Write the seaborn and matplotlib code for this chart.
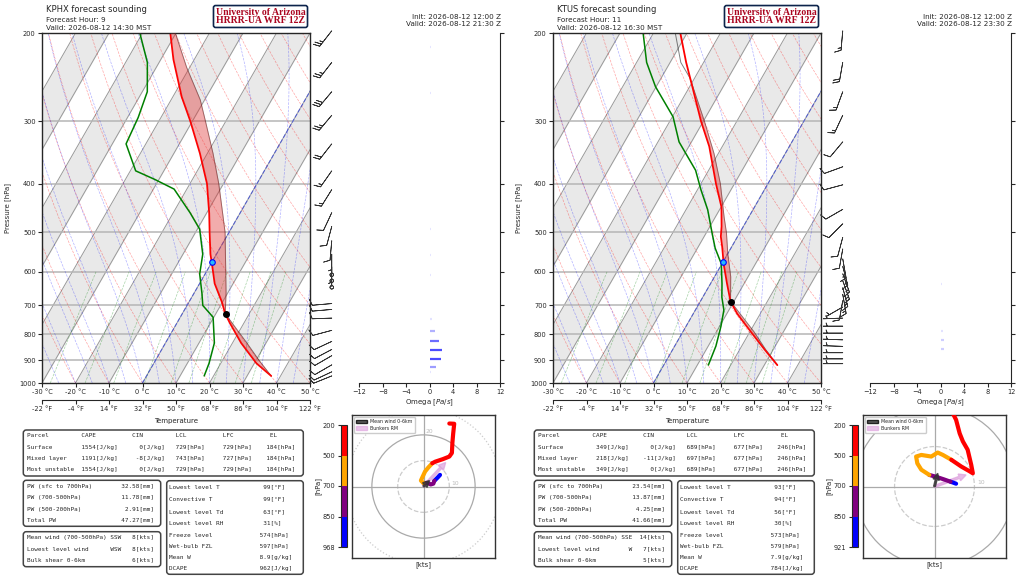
import numpy as np
import pandas as pd
import matplotlib
matplotlib.use('Agg')
import matplotlib.pyplot as plt
import matplotlib.cm as cm
import seaborn as sns
from matplotlib.patches import FancyBboxPatch, Patch, Circle
from matplotlib.colors import ListedColormap, BoundaryNorm, to_rgba
from matplotlib.transforms import IdentityTransform

sns.set_style('ticks')
plt.rcParams['font.family'] = ['DejaVu Sans']

# ===================== data: KPHX =====================
phx_t_p = [968, 914, 832, 760, 727, 690, 633, 578, 553, 500, 458, 400, 348, 300, 268, 226, 200]
phx_t = [37.2, 30.7, 22.6, 15.9, 12.8, 9.9, 4.5, 0.3, -1.8, -5.8, -9.2, -14.9, -22.2, -30.6, -37.4, -46.2, -51.7]
phx_td_p = [968, 914, 832, 739, 700, 661, 606, 553, 493, 457, 410, 392, 377, 333, 295, 262, 229, 200]
phx_td = [17.2, 16.5, 14.6, 9.8, 4.7, 2.3, -1.6, -4.1, -9.3, -15.0, -23.8, -31.3, -38.4, -45.9, -46.8, -48.5, -53.5, -60.8]
phx_parcel_p = [968, 900, 832, 727, 661, 586, 500, 458, 400, 348, 300, 272, 234, 200]
phx_parcel = [37.2, 30.8, 24.3, 12.8, 9.5, 4.9, -1.2, -5.2, -11.4, -18.3, -26.1, -31.3, -41.0, -50.2]
phx_wind_p = [198, 229, 262, 292, 333, 377, 411, 457, 487, 520, 553, 586, 608, 625, 644,
              694, 713, 742, 785, 826, 857, 882, 920, 950, 968]
phx_wind_dir = [218, 218, 220, 220, 218, 215, 212, 205, 195, 185, 180, 180, 0, 0, 0,
                265, 265, 268, 255, 245, 242, 240, 240, 245, 248]
phx_wind_spd = [25, 25, 30, 25, 20, 15, 15, 10, 10, 10, 5, 4, 0, 0, 0,
                10, 10, 10, 10, 10, 10, 10, 10, 10, 8]
phx_omega_p = [213, 263, 493, 554, 608, 746, 786, 824, 860, 894, 929, 952]
phx_omega = [0.2, 0.2, 0.2, 0.2, 0.2, 0.3, 0.8, 1.5, 2.0, 1.9, 1.0, 0.2]
phx_hodo_p = [968, 920, 880, 850, 800, 760, 730, 700, 660, 620, 580, 540, 500,
              460, 420, 380, 340, 300, 260, 230, 200]
phx_hodo_u = [6.4, 5.6, 4.8, 4.2, 3.8, 2.8, 1.5, 0.0, -1.0, -0.6, 0.6, 1.9, 3.4,
              4.5, 7.5, 10.0, 11.0, 11.2, 11.5, 11.9, 10.0]
phx_hodo_v = [4.5, 3.6, 2.8, 2.2, 1.1, 0.8, 1.4, 1.3, 2.3, 3.2, 5.8, 7.4, 9.0,
              9.6, 10.6, 11.6, 13.0, 17.0, 20.5, 24.3, 24.4]
phx_mean_wind = [2.3, 2.3]
phx_bunkers = [8.6, 9.3]
phx_sfc_p = 968
phx_lcl_p = 729
phx_frz_p = 574
phx_parcels = [('Surface', 1554, 0, 729, 729, 184),
               ('Mixed layer', 1191, -8, 743, 727, 184),
               ('Most unstable', 1554, 0, 729, 729, 184)]
phx_pw = [32.58, 11.78, 2.91, 47.27]
phx_winds = [('SSW', 8), ('WSW', 8), ('', 6)]
phx_misc = ['99', '99', '63', '31', '574', '597', '8.9', '962']

# ===================== data: KTUS =====================
tus_t_p = [921, 857, 793, 727, 687, 633, 578, 535, 510, 487, 445, 400, 337, 300, 256, 229, 200]
tus_t = [33.9, 27.4, 20.6, 13.1, 9.0, 4.9, 0.5, -2.8, -5.0, -6.5, -9.9, -15.5, -23.9, -30.7, -39.2, -45.2, -52.0]
tus_td_p = [921, 844, 770, 715, 674, 633, 578, 538, 501, 451, 411, 376, 330, 294, 256, 229, 200]
tus_td = [13.3, 12.3, 10.4, 8.5, 5.7, 3.4, -0.2, -4.7, -8.3, -13.5, -19.0, -23.9, -33.7, -39.8, -50.2, -57.0, -63.1]
tus_parcel_p = [921, 857, 790, 687, 613, 553, 501, 466, 400, 348, 300, 246, 229, 200]
tus_parcel = [33.9, 27.7, 21.2, 9.0, 4.8, 0.1, -4.0, -7.4, -14.2, -21.3, -29.7, -41.4, -46.8, -53.5]
tus_wind_p = [198, 229, 262, 292, 330, 370, 402, 450, 481, 512, 540, 565, 585, 605, 625, 645,
              665, 685, 705, 742, 770, 795, 820, 845, 870, 895, 915]
tus_wind_dir = [185, 190, 200, 205, 220, 250, 255, 240, 225, 195, 190, 170, 165, 160, 160, 165,
                170, 190, 240, 268, 270, 270, 272, 272, 270, 270, 270]
tus_wind_spd = [15, 20, 15, 15, 10, 10, 10, 10, 10, 10, 10, 15, 15, 15, 15, 15,
                15, 10, 5, 5, 5, 5, 5, 5, 5, 5, 7]
tus_omega_p = [634, 786, 820, 854, 890]
tus_omega = [0.2, 0.3, 0.5, 0.5, 0.1]
tus_hodo_p = [921, 880, 850, 800, 750, 700, 670, 640, 610, 580, 560, 540, 520, 500,
              470, 440, 410, 380, 350, 320, 290, 260, 230, 200]
tus_hodo_u = [5.4, 4.6, 4.0, 2.3, 0.5, -1.3, -3.3, -4.3, -4.6, -3.3, -0.8, 0.8, 2.1, 4.2,
              6.7, 8.8, 9.6, 9.2, 8.3, 7.1, 6.3, 5.4, 4.6, 2.5]
tus_hodo_v = [0.7, 1.0, 1.2, 1.8, 2.4, 2.9, 4.2, 5.8, 7.5, 7.9, 7.5, 8.5, 7.9, 6.7,
              5.0, 3.8, 3.3, 5.4, 9.2, 11.3, 13.3, 16.7, 18.3, 19.6]
tus_mean_wind = [0.8, 3.3]
tus_bunkers = [7.9, 2.9]
tus_sfc_p = 921
tus_lcl_p = 689
tus_frz_p = 573
tus_parcels = [('Surface', 349, 0, 689, 677, 246),
               ('Mixed layer', 218, -11, 697, 677, 246),
               ('Most unstable', 349, 0, 689, 677, 246)]
tus_pw = [23.54, 13.87, 4.25, 41.66]
tus_winds = [('SSE', 14), ('W', 7), ('', 5)]
tus_misc = ['93', '94', '56', '30', '573', '579', '7.9', '784']

W, H = 1024, 576
SKEW = 60.0
LEVELS = list(range(200, 1001, 100))
MONO = 'DejaVu Sans Mono'
MONO_SIZE = 4.35


def fr(x, y, w, h):
    return [x / W, 1 - (y + h) / H, w / W, h / H]


def skew(p):
    return SKEW * np.log(1000.0 / np.asarray(p, float)) / np.log(5.0)


def moist_adiabats(t0c, p):
    Rd, Cp, Lv, eps = 287.04, 1005.7, 2.501e6, 0.622

    def f(T, pp):
        es = 6.112 * np.exp(17.67 * (T - 273.15) / (T - 29.65))
        rs = eps * es / (pp - es)
        return (Rd * T + Lv * rs) / (Cp + Lv ** 2 * rs * eps / (Rd * T ** 2)) / pp

    T = np.asarray(t0c, float) + 273.15
    out = [T.copy()]
    for i in range(len(p) - 1):
        dp = p[i + 1] - p[i]
        k1 = f(T, p[i])
        k2 = f(T + 0.5 * dp * k1, p[i] + 0.5 * dp)
        k3 = f(T + 0.5 * dp * k2, p[i] + 0.5 * dp)
        k4 = f(T + dp * k3, p[i + 1])
        T = T + dp * (k1 + 2 * k2 + 2 * k3 + k4) / 6
        out.append(T.copy())
    return np.array(out) - 273.15


def interp_p(pg, p, t):
    return np.interp(-np.log(pg), -np.log(np.asarray(p, float)), t)


def profile(ax, p, t, color, lw, alpha=1.0):
    df = pd.DataFrame({'x': np.asarray(t) + skew(p), 'p': p})
    sns.lineplot(data=df, x='x', y='p', sort=False, estimator=None, orient='y',
                 color=color, lw=lw, alpha=alpha, ax=ax)


def box(fig, x0, y0, x1, y1, ec='#444444', lw=1.1):
    fig.add_artist(FancyBboxPatch((x0, H - y1), x1 - x0, y1 - y0,
                                  boxstyle='round,pad=0,rounding_size=3',
                                  transform=IdentityTransform(), fc='white', ec=ec, lw=lw))


def ftext(fig, x, y, s, **kw):
    fig.text(x / W, 1 - y / H, s, **kw)


def draw_panel(fig, dx, st):
    # ---------- skew-T ----------
    ax = fig.add_axes(fr(42 + dx, 33, 268, 350))
    ax.set_yscale('log')
    pg = np.geomspace(1000, 200, 120)
    for t0 in range(-100, 50, 20):
        ax.fill_betweenx(pg, t0 + skew(pg), t0 + 10 + skew(pg), color='#e9e9e9', lw=0, zorder=0)
    for t0 in range(-150, 60, 10):
        ax.plot(t0 + skew(pg), pg, color='#999999', lw=0.7, zorder=1)
    for lev in LEVELS[1:-1]:
        ax.axhline(lev, color='#b5b5b5', lw=1.1, zorder=1)
    for t0 in np.arange(-40, 200, 10):
        tt = (t0 + 273.15) * (pg / 1000.0) ** 0.2857 - 273.15
        ax.plot(tt + skew(pg), pg, color='red', ls='--', lw=0.5, alpha=0.35, zorder=1)
    pm = np.linspace(1000, 200, 161)
    mt = moist_adiabats(np.arange(-30, 46, 5), pm)
    for j in range(mt.shape[1]):
        ax.plot(mt[:, j] + skew(pm), pm, color='blue', ls='--', lw=0.5, alpha=0.3, zorder=1)
    pw = np.linspace(1000, 600, 40)
    for w in [0.4, 1, 2, 4, 7, 10, 16, 24, 32]:
        e = pw * w / 1000 / (0.622 + w / 1000)
        le = np.log(e / 6.112)
        td = 243.5 * le / (17.67 - le)
        ax.plot(td + skew(pw), pw, color='green', ls='--', lw=0.5, alpha=0.35, zorder=1)
    ax.plot(0 + skew(pg), pg, color='#3344dd', ls='--', lw=0.8, alpha=0.7, zorder=2)

    # CAPE shading between environment and parcel
    pp = np.geomspace(max(st['parcel_p']), min(st['parcel_p']), 300)
    xe = interp_p(pp, st['t_p'], st['t']) + skew(pp)
    xp = interp_p(pp, st['parcel_p'], st['parcel']) + skew(pp)
    ax.fill_betweenx(pp, xe, xp, where=xp > xe, interpolate=True, color='#e03030', alpha=0.4, lw=0, zorder=3)
    profile(ax, st['parcel_p'], st['parcel'], 'k', 0.7, alpha=0.5)
    profile(ax, st['t_p'], st['t'], 'red', 1.3)
    profile(ax, st['td_p'], st['td'], 'green', 1.1)
    t_lcl = interp_p(np.array([st['lcl_p']]), st['parcel_p'], st['parcel'])
    ax.plot(t_lcl + skew(st['lcl_p']), [st['lcl_p']], 'o', ms=4, color='k', zorder=6)
    ax.plot([0 + skew(st['frz_p'])], [st['frz_p']], 'o', ms=4, mfc='#22bbff', mec='blue', mew=0.8, zorder=6)

    ax.set_ylim(1000, 200)
    ax.set_xlim(-30, 50)
    ax.set_yticks(LEVELS, [str(v) for v in LEVELS])
    ax.minorticks_off()
    ax.set_xticks(np.arange(-30, 51, 10), [f'{t} °C' for t in range(-30, 51, 10)])
    ax.set_xlabel('')
    ax.set_ylabel('')
    ax.tick_params(labelsize=4.8, length=3, width=0.8, pad=1.5)
    for sp in ax.spines.values():
        sp.set_linewidth(1.0)
    sec = ax.secondary_xaxis(-0.049, functions=(lambda x: x, lambda x: x))
    sec.set_xticks(np.arange(-30, 51, 10), [f'{round(t * 9 / 5 + 32)} °F' for t in range(-30, 51, 10)])
    sec.tick_params(labelsize=4.8, length=3, width=0.8, pad=1.5)
    ftext(fig, 176 + dx, 421, 'Temperature', fontsize=5, ha='center', va='center')
    ftext(fig, 8 + dx, 208, 'Pressure [hPa]', fontsize=5, ha='center', va='center', rotation=90)

    # ---------- wind barbs ----------
    bax = fig.add_axes(fr(311 + dx, 33, 34, 350))
    bax.set_yscale('log')
    d = np.radians(st['wind_dir'])
    s = np.asarray(st['wind_spd'], float)
    bax.barbs(np.full(len(s), 0.61), st['wind_p'], -s * np.sin(d), -s * np.cos(d),
              length=5.3, linewidth=0.55, color='#333333', clip_on=False,
              sizes=dict(spacing=0.14, height=0.32, width=0.25, emptybarb=0.09))
    bax.set_ylim(1000, 200)
    bax.set_xlim(0, 1)
    bax.axis('off')

    # ---------- omega ----------
    oax = fig.add_axes(fr(359.3 + dx, 33, 141, 350))
    oax.set_yscale('log')
    om = np.asarray(st['omega'], float)
    cols = [to_rgba('blue', a) for a in np.clip(np.abs(om) / 2.6, 0.1, 0.7)]
    oax.hlines(st['omega_p'], 0, om, colors=cols, lw=1.6)
    oax.set_ylim(1000, 200)
    oax.set_xlim(-12, 12)
    oax.set_yticks(LEVELS)
    oax.minorticks_off()
    oax.yaxis.tick_right()
    oax.tick_params(axis='y', labelright=False, labelleft=False, length=3, width=0.8)
    oax.set_xticks(range(-12, 13, 4))
    oax.tick_params(axis='x', labelsize=4.8, length=3, width=0.8, pad=1.5)
    oax.spines['left'].set_visible(False)
    oax.spines['top'].set_visible(False)
    oax.set_xlabel('Omega [$Pa/s$]', fontsize=5, labelpad=1.5)

    # ---------- titles ----------
    ftext(fig, 45.7 + dx, 9.7, f"{st['station']} forecast sounding", fontsize=6.0, va='center')
    ftext(fig, 45.7 + dx, 20, f"Forecast Hour: {st['hour']}", fontsize=5.2, va='center')
    ftext(fig, 45.7 + dx, 27.8, f"Valid: {st['valid_local']}", fontsize=5.2, va='center')
    ftext(fig, 500.7 + dx, 16.7, 'Init: 2026-08-12 12:00 Z', fontsize=5.2, ha='right', va='center')
    ftext(fig, 500.7 + dx, 24.5, f"Valid: {st['valid_z']}", fontsize=5.2, ha='right', va='center')
    ftext(fig, 260.5 + dx, 16.5, 'University of Arizona\nHRRR-UA WRF 12Z', fontsize=7.0,
          family='Liberation Serif', weight='bold', color='#AB0520', ha='center', va='center',
          linespacing=0.95, bbox=dict(boxstyle='round,pad=0.22', fc='white', ec='#0C234B', lw=1.2))

    # ---------- tables ----------
    box(fig, 23.3 + dx, 430, 303.3 + dx, 476)
    rows = [f"{'Parcel':<15}{'CAPE':<14}{'CIN':<12}{'LCL':<13}{'LFC':<13}EL"]
    for name, cape, cin, lcl, lfc, el in st['parcels']:
        rows.append(f"{name:<15}{f'{cape}[J/kg]':>10}{f'{cin}[J/kg]':>13}   "
                    f"{f'{lcl}[hPa]':<13}{f'{lfc}[hPa]':<12}{el}[hPa]")
    for y, r in zip([435.7, 447.3, 458.3, 469.7], rows):
        ftext(fig, 26.7 + dx, y, r, family=MONO, fontsize=MONO_SIZE, va='center')

    box(fig, 23.3 + dx, 480.3, 160.7 + dx, 526.3)
    pw_lab = ['PW (sfc to 700hPa)', 'PW (700-500hPa)', 'PW (500-200hPa)', 'Total PW']
    for y, lab, v in zip([486.7, 497.7, 509, 520.3], pw_lab, st['pw']):
        ftext(fig, 26.7 + dx, y, f"{lab:<20}{f'{v:.2f}[mm]':>15}", family=MONO, fontsize=MONO_SIZE, va='center')

    box(fig, 23.3 + dx, 531.7, 160.7 + dx, 566.7)
    w_lab = ['Mean wind (700-500hPa)', 'Lowest level wind', 'Bulk shear 0-6km']
    for y, lab, (dr, v) in zip([537.3, 548.7, 560.3], w_lab, st['winds']):
        ftext(fig, 26.7 + dx, y, f"{lab:<23}{dr:>3}{v:>4}[kts]", family=MONO, fontsize=MONO_SIZE, va='center')

    box(fig, 166.7 + dx, 480.7, 303.3 + dx, 574.3)
    m_lab = ['Lowest level T', 'Convective T', 'Lowest level Td', 'Lowest level RH',
             'Freeze level', 'Wet-bulb FZL', 'Mean W', 'DCAPE']
    m_unit = ['°F', '°F', '°F', '%', 'hPa', 'hPa', 'g/kg', 'J/kg']
    ys = [486.7, 499.3, 511.7, 523.3, 535, 546, 557.3, 568.7]
    for y, lab, v, u in zip(ys, m_lab, st['misc'], m_unit):
        ftext(fig, 169 + dx, y, f"{lab:<22}{v:>6}[{u}]", family=MONO, fontsize=MONO_SIZE, va='center')

    # ---------- hodograph ----------
    rng = st['hodo_range']
    hax = fig.add_axes(fr(352 + dx, 415, 143, 143))
    hax.set_xlim(-rng, rng)
    hax.set_ylim(-rng, rng)
    for r, ls, c in [(10, '--', '#cccccc'), (20, '-', '#aaaaaa'), (30, ':', '#cccccc'), (40, '-', '#cccccc')]:
        hax.add_patch(Circle((0, 0), r, fill=False, ls=ls, ec=c, lw=0.9))
    hax.axhline(0, color='#aaaaaa', lw=0.9)
    hax.axvline(0, color='#aaaaaa', lw=0.9)
    if rng > 13:
        hax.text(10.6, 0.3, '10', fontsize=4.3, color='#bbbbbb', va='bottom', clip_on=True)
    if rng > 23:
        hax.text(0.6, 20.4, '20', fontsize=4.3, color='#bbbbbb', va='bottom', clip_on=True)
    hp = np.asarray(st['hodo_p'])
    hu = np.asarray(st['hodo_u'])
    hv = np.asarray(st['hodo_v'])
    bounds = [st['sfc_p'], 850, 700, 500, 200]
    for (hi, lo), col in zip(zip(bounds[:-1], bounds[1:]), ['blue', 'purple', 'orange', 'red']):
        m = (hp <= hi) & (hp >= lo)
        hax.plot(hu[m], hv[m], color=col, lw=3, solid_capstyle='round', solid_joinstyle='round', zorder=4)
    hax.arrow(0, 0, *st['mean_wind'], width=rng * 0.025, head_width=rng * 0.09, head_length=rng * 0.09,
              length_includes_head=True, fc='#333333', ec='#333333', alpha=0.8, zorder=5)
    hax.arrow(0, 0, *st['bunkers'], width=rng * 0.03, head_width=rng * 0.1, head_length=rng * 0.1,
              length_includes_head=True, fc='plum', ec='plum', alpha=0.7, zorder=3)
    hax.legend(handles=[Patch(fc='#333333', ec='k', alpha=0.8, label='Mean wind 0-6km'),
                        Patch(fc='plum', ec='plum', alpha=0.6, label='Bunkers RM')],
               loc='upper left', fontsize=3.4, handlelength=2.2, borderpad=0.4, labelspacing=0.3,
               framealpha=1, edgecolor='#cccccc')
    hax.set_xticks([])
    hax.set_yticks([])
    for sp in hax.spines.values():
        sp.set_linewidth(1.0)
        sp.set_color('#333333')
    hax.set_xlabel('[kts]', fontsize=5, labelpad=2)

    cax = fig.add_axes(fr(340.7 + dx, 425, 6, 122))
    cmap = ListedColormap(['blue', 'purple', 'orange', 'red'])
    norm = BoundaryNorm([0, 1, 2, 3, 4], 4)
    cb = fig.colorbar(cm.ScalarMappable(norm=norm, cmap=cmap), cax=cax, ticks=[0, 1, 2, 3, 4])
    cb.ax.set_yticklabels([str(st['sfc_p']), '850', '700', '500', '200'])
    cax.yaxis.set_ticks_position('left')
    cax.yaxis.set_label_position('left')
    cax.tick_params(labelsize=4.8, length=2.5, width=0.8, pad=1.5)
    cb.outline.set_linewidth(0.8)
    cb.set_label('[hPa]', fontsize=5, labelpad=1)


stations = [
    dict(station='KPHX', hour=9, valid_local='2026-08-12 14:30 MST', valid_z='2026-08-12 21:30 Z',
         t_p=phx_t_p, t=phx_t, td_p=phx_td_p, td=phx_td, parcel_p=phx_parcel_p, parcel=phx_parcel,
         wind_p=phx_wind_p, wind_dir=phx_wind_dir, wind_spd=phx_wind_spd,
         omega_p=phx_omega_p, omega=phx_omega, hodo_p=phx_hodo_p, hodo_u=phx_hodo_u, hodo_v=phx_hodo_v,
         mean_wind=phx_mean_wind, bunkers=phx_bunkers, sfc_p=phx_sfc_p, lcl_p=phx_lcl_p, frz_p=phx_frz_p,
         parcels=phx_parcels, pw=phx_pw, winds=phx_winds, misc=phx_misc, hodo_range=27.7),
    dict(station='KTUS', hour=11, valid_local='2026-08-12 16:30 MST', valid_z='2026-08-12 23:30 Z',
         t_p=tus_t_p, t=tus_t, td_p=tus_td_p, td=tus_td, parcel_p=tus_parcel_p, parcel=tus_parcel,
         wind_p=tus_wind_p, wind_dir=tus_wind_dir, wind_spd=tus_wind_spd,
         omega_p=tus_omega_p, omega=tus_omega, hodo_p=tus_hodo_p, hodo_u=tus_hodo_u, hodo_v=tus_hodo_v,
         mean_wind=tus_mean_wind, bunkers=tus_bunkers, sfc_p=tus_sfc_p, lcl_p=tus_lcl_p, frz_p=tus_frz_p,
         parcels=tus_parcels, pw=tus_pw, winds=tus_winds, misc=tus_misc, hodo_range=17.9),
]

fig = plt.figure(figsize=(W / 100, H / 100), dpi=100)
for i, st in enumerate(stations):
    draw_panel(fig, 511 * i, st)
fig.savefig('out.png', dpi=100)
